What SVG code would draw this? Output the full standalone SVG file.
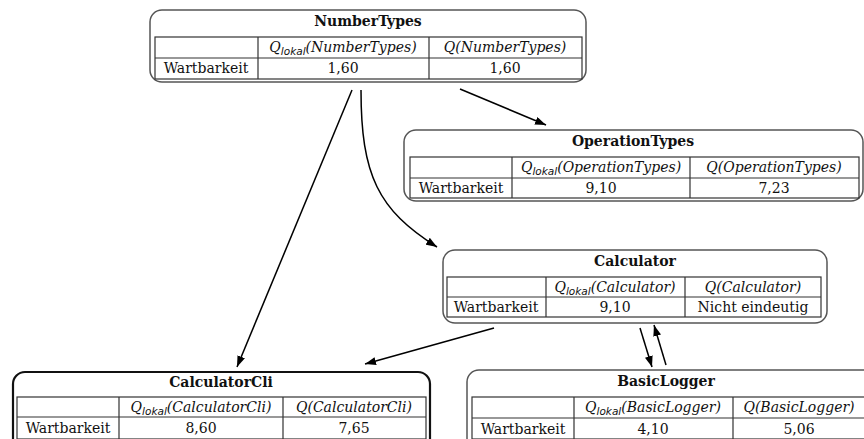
<svg xmlns="http://www.w3.org/2000/svg" width="864" height="439" viewBox="0 0 864 439">
  <style>
    .box { fill: #ffffff; stroke: #555555; stroke-width: 1.5; }
    .box.strong { stroke: #111111; stroke-width: 2.2; }
    .grid { fill: none; stroke: #333333; stroke-width: 1.2; }
    .t { font-family: "DejaVu Serif", "Liberation Serif", serif; font-size: 14px; fill: #111111; }
    .title { font-weight: bold; text-anchor: middle; }
    .c { text-anchor: middle; }
    .i { font-style: italic; }
    .sub { font-family: "DejaVu Sans", "Liberation Sans", sans-serif; font-size: 10.5px; font-style: italic; }
    .edge { fill: none; stroke: #000000; stroke-width: 1.5; marker-end: url(#arrow); }
  </style>
  <defs>
    <marker id="arrow" markerUnits="userSpaceOnUse" markerWidth="11" markerHeight="8" refX="11" refY="4" orient="auto">
      <path d="M0,0 L11,4 L0,8 z" fill="#000000"/>
    </marker>
  </defs>

  <rect width="864" height="439" fill="#ffffff"/>

  <!-- connectors -->
  <g id="edges">
    <path class="edge" d="M460,89 L546,125"/>
    <path class="edge" d="M352,90 L237,367"/>
    <path class="edge" d="M361,90 C361,175 378,210 437,247"/>
    <path class="edge" d="M494,328 L365,364"/>
    <path class="edge" d="M640,328 L652,367"/>
    <path class="edge" d="M666,365 L654,325"/>
  </g>

  <!-- NumberTypes -->
  <g id="NumberTypes">
    <rect class="box" x="150" y="10" width="436" height="72" rx="12"/>
    <text class="t title" x="368" y="26">NumberTypes</text>
    <rect class="grid" x="155" y="37" width="427" height="42"/>
    <path class="grid" d="M155,58 H582 M258,37 V79 M429,37 V79"/>
    <text class="t c i" x="343" y="52">Q<tspan class="sub" dy="3">lokal</tspan><tspan dy="-3">(NumberTypes)</tspan></text>
    <text class="t c i" x="505" y="52">Q(NumberTypes)</text>
    <text class="t c" x="206" y="73">Wartbarkeit</text>
    <text class="t c" x="343" y="73">1,60</text>
    <text class="t c" x="505" y="73">1,60</text>
  </g>

  <!-- OperationTypes -->
  <g id="OperationTypes">
    <rect class="box" x="404" y="130" width="459" height="71" rx="12"/>
    <text class="t title" x="633" y="146">OperationTypes</text>
    <rect class="grid" x="410" y="157" width="449" height="41"/>
    <path class="grid" d="M410,178 H859 M512,157 V198 M690,157 V198"/>
    <text class="t c i" x="601" y="172">Q<tspan class="sub" dy="3">lokal</tspan><tspan dy="-3">(OperationTypes)</tspan></text>
    <text class="t c i" x="774" y="172">Q(OperationTypes)</text>
    <text class="t c" x="461" y="193">Wartbarkeit</text>
    <text class="t c" x="601" y="193">9,10</text>
    <text class="t c" x="774" y="193">7,23</text>
  </g>

  <!-- Calculator -->
  <g id="Calculator">
    <rect class="box" x="443" y="250" width="384" height="73" rx="12"/>
    <text class="t title" x="635" y="266">Calculator</text>
    <rect class="grid" x="447" y="277" width="374" height="40"/>
    <path class="grid" d="M447,297 H821 M546,277 V317 M685,277 V317"/>
    <text class="t c i" x="615" y="292">Q<tspan class="sub" dy="3">lokal</tspan><tspan dy="-3">(Calculator)</tspan></text>
    <text class="t c i" x="753" y="292">Q(Calculator)</text>
    <text class="t c" x="496" y="312">Wartbarkeit</text>
    <text class="t c" x="615" y="312">9,10</text>
    <text class="t c" x="753" y="312">Nicht eindeutig</text>
  </g>

  <!-- CalculatorCli -->
  <g id="CalculatorCli">
    <rect class="box strong" x="13" y="372" width="417" height="80" rx="12"/>
    <text class="t title" x="221" y="387">CalculatorCli</text>
    <rect class="grid" x="17" y="397" width="409" height="42"/>
    <path class="grid" d="M17,417 H426 M119,397 V439 M283,397 V439"/>
    <text class="t c i" x="201" y="412">Q<tspan class="sub" dy="3">lokal</tspan><tspan dy="-3">(CalculatorCli)</tspan></text>
    <text class="t c i" x="354" y="412">Q(CalculatorCli)</text>
    <text class="t c" x="68" y="433">Wartbarkeit</text>
    <text class="t c" x="201" y="433">8,60</text>
    <text class="t c" x="354" y="433">7,65</text>
  </g>

  <!-- BasicLogger -->
  <g id="BasicLogger">
    <rect class="box" x="467" y="370" width="410" height="80" rx="12"/>
    <text class="t title" x="666" y="386">BasicLogger</text>
    <rect class="grid" x="472" y="397" width="400" height="42"/>
    <path class="grid" d="M472,418 H872 M574,397 V439 M733,397 V439"/>
    <text class="t c i" x="653" y="412">Q<tspan class="sub" dy="3">lokal</tspan><tspan dy="-3">(BasicLogger)</tspan></text>
    <text class="t c i" x="799" y="412">Q(BasicLogger)</text>
    <text class="t c" x="523" y="434">Wartbarkeit</text>
    <text class="t c" x="653" y="434">4,10</text>
    <text class="t c" x="799" y="434">5,06</text>
  </g>
</svg>
